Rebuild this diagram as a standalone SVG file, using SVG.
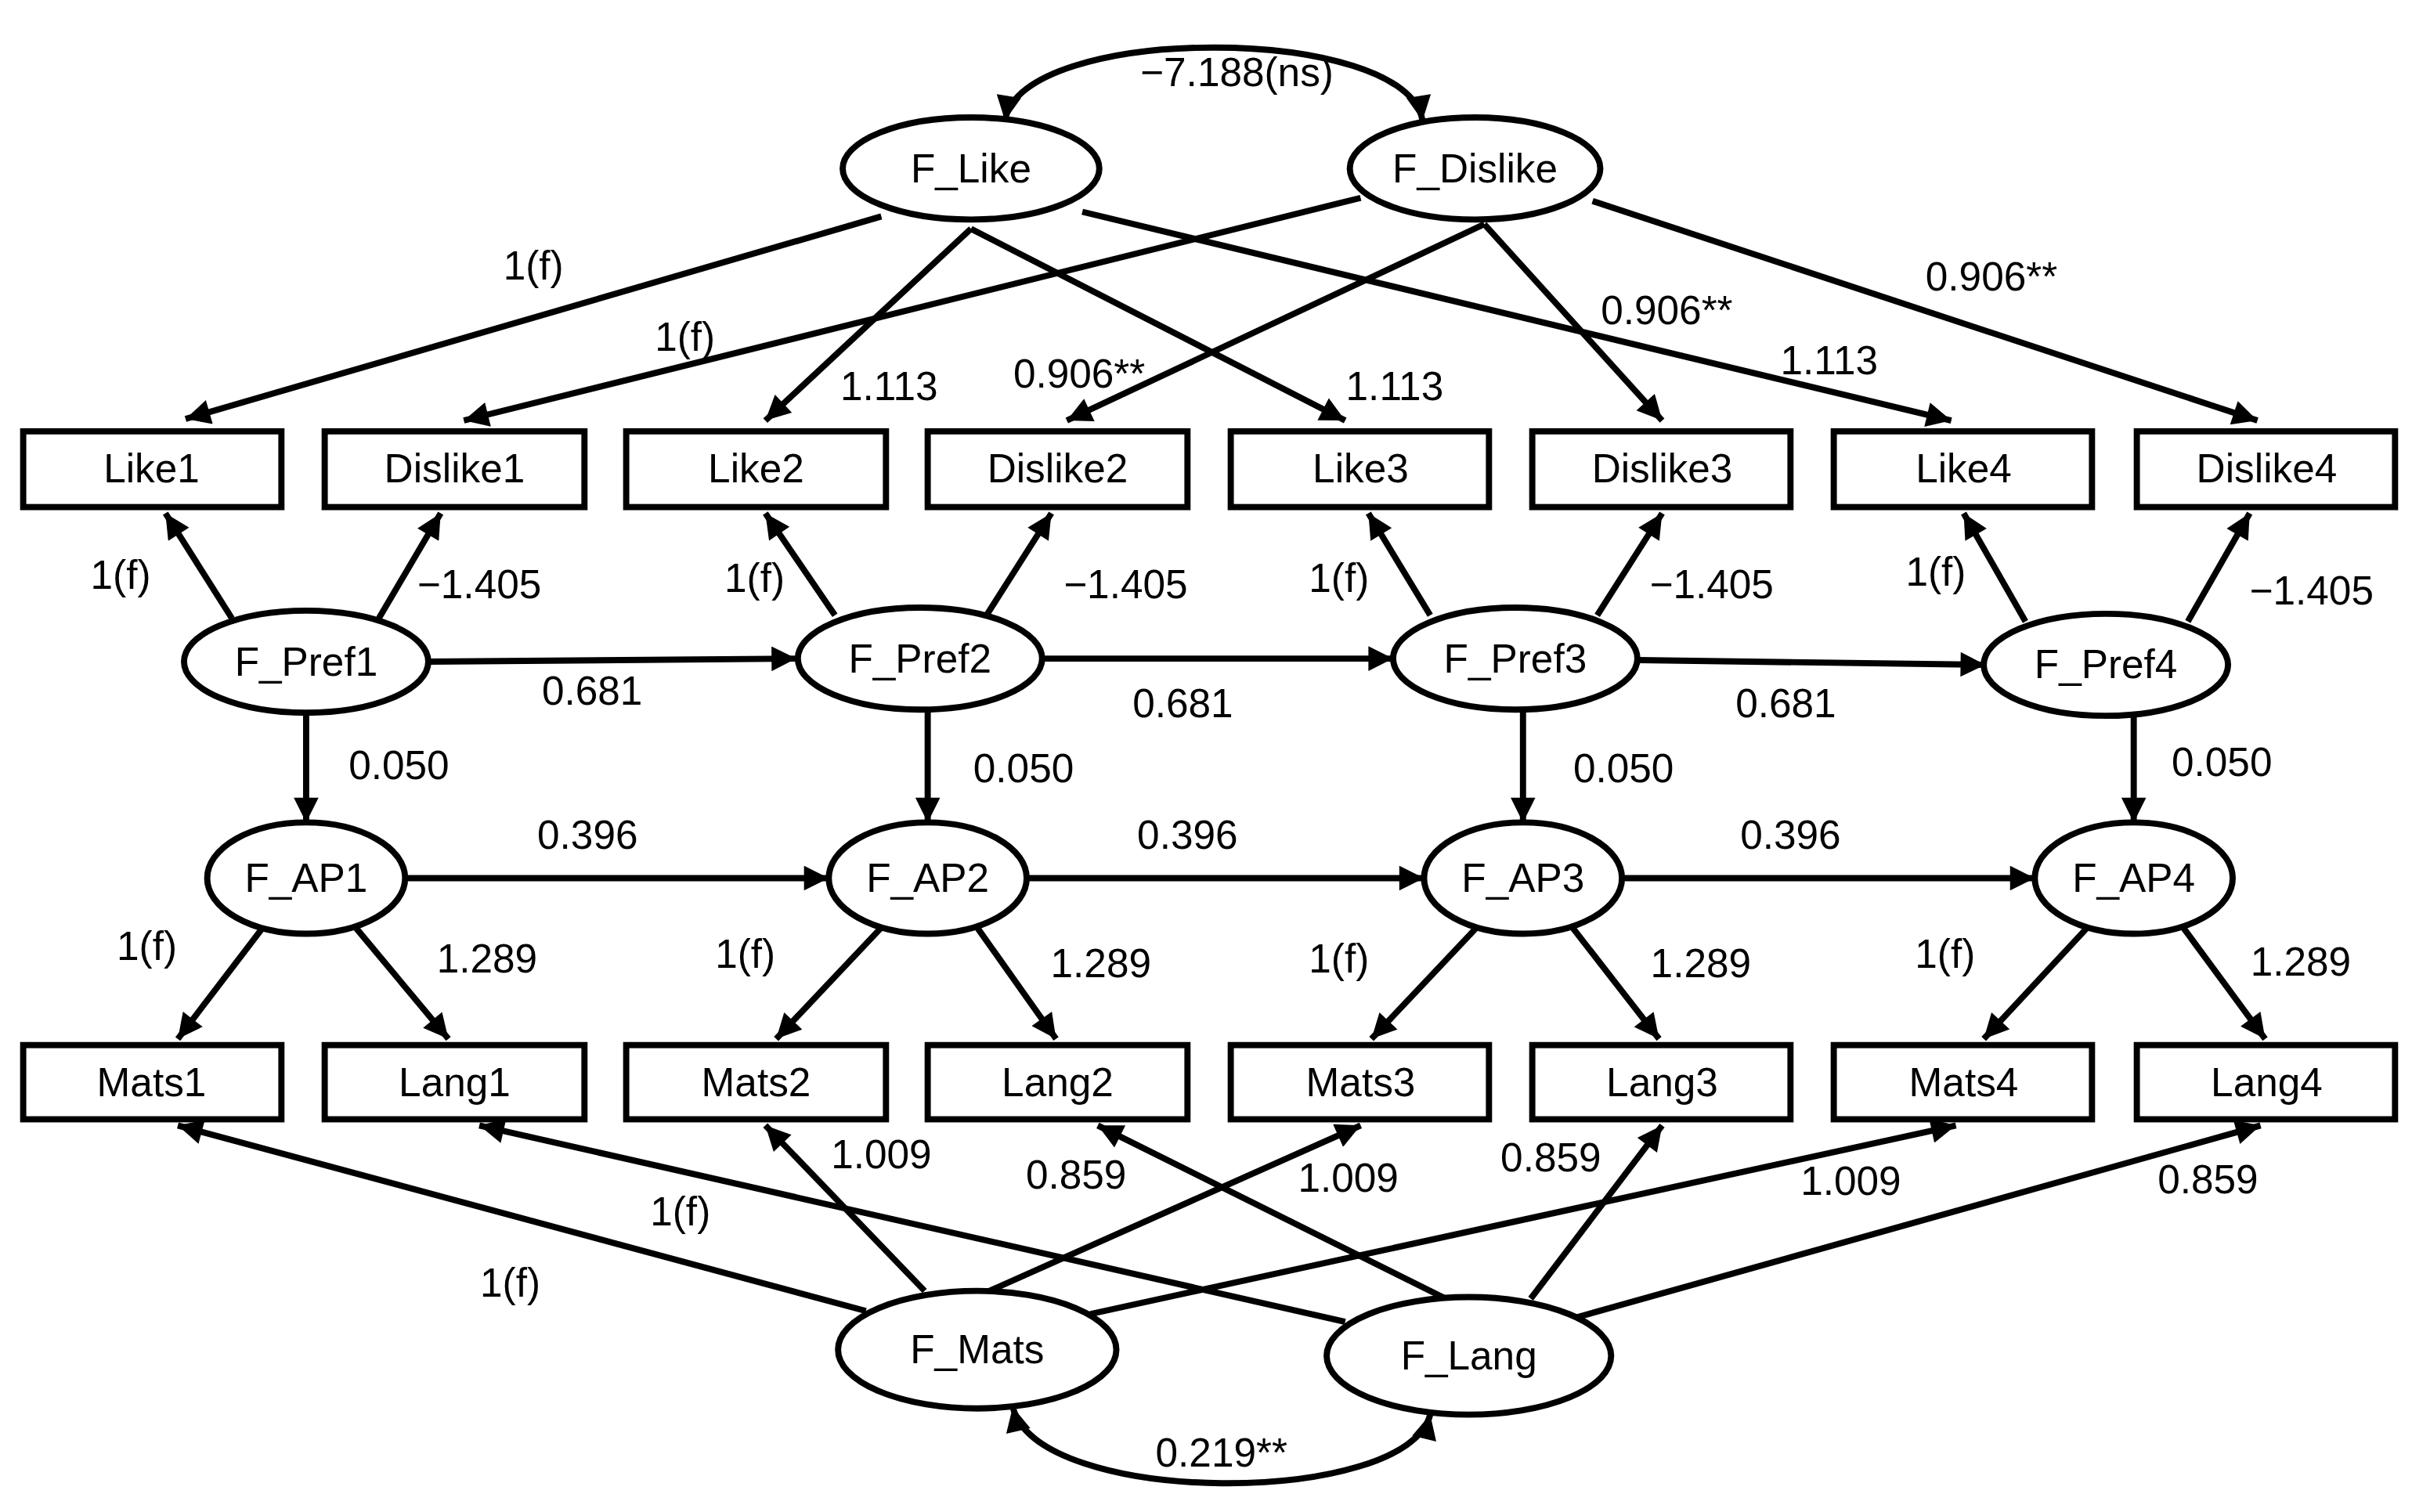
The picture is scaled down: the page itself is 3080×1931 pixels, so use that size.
<svg xmlns="http://www.w3.org/2000/svg" width="3080" height="1931" viewBox="0 0 3080 1931">
<style>
.n{fill:#fff;stroke:#000;stroke-width:4}
.t{font-family:"Liberation Sans",Arial,sans-serif;font-size:26px;text-anchor:middle;dominant-baseline:central;fill:#000}
.c line,.c path{stroke:#000;stroke-width:4;fill:none;marker-end:url(#a)}
</style>
<defs>
<marker id="a" viewBox="0 0 10 10" refX="10" refY="5" markerWidth="5.5" markerHeight="4" orient="auto" markerUnits="strokeWidth"><path d="M0,0 L10,5 L0,10 z" fill="#000"/></marker>
<marker id="s" viewBox="0 0 10 10" refX="0" refY="5" markerWidth="5.5" markerHeight="4" orient="auto" markerUnits="strokeWidth"><path d="M10,0 L0,5 L10,10 z" fill="#000"/></marker>
</defs>
<rect width="3080" height="1931" fill="#fff"/>
<g transform="scale(1.9744)">
<g class="c" id="connectors">
<path d="M650,78 C660,15 910,15 920,78" style="marker-start:url(#s)"/>
<path d="M655,910 C670,975 910,975 925,915" style="marker-start:url(#s)"/>
<line x1="570" y1="140" x2="120" y2="271"/>
<line x1="628" y1="148" x2="495" y2="272"/>
<line x1="628" y1="148" x2="870" y2="272"/>
<line x1="700" y1="137" x2="1262" y2="272"/>
<line x1="880" y1="128" x2="300" y2="272"/>
<line x1="960" y1="145" x2="690" y2="272"/>
<line x1="960" y1="145" x2="1075" y2="272"/>
<line x1="1030" y1="130" x2="1460" y2="272"/>
<line x1="150" y1="400" x2="107" y2="332"/>
<line x1="245" y1="400" x2="285" y2="332"/>
<line x1="540" y1="398" x2="495" y2="332"/>
<line x1="638" y1="398" x2="680" y2="332"/>
<line x1="925" y1="398" x2="885" y2="332"/>
<line x1="1033" y1="398" x2="1075" y2="332"/>
<line x1="1310" y1="402" x2="1270" y2="332"/>
<line x1="1415" y1="402" x2="1455" y2="332"/>
<line x1="277" y1="428" x2="515" y2="426"/>
<line x1="674" y1="426" x2="901" y2="426"/>
<line x1="1060" y1="427" x2="1284" y2="430"/>
<line x1="198" y1="461" x2="198" y2="532"/>
<line x1="600" y1="459" x2="600" y2="532"/>
<line x1="985" y1="459" x2="985" y2="532"/>
<line x1="1380" y1="463" x2="1380" y2="532"/>
<line x1="262" y1="568" x2="536" y2="568"/>
<line x1="664" y1="568" x2="921" y2="568"/>
<line x1="1049" y1="568" x2="1316" y2="568"/>
<line x1="170" y1="600" x2="115" y2="672"/>
<line x1="230" y1="600" x2="290" y2="672"/>
<line x1="570" y1="600" x2="502" y2="672"/>
<line x1="632" y1="600" x2="683" y2="672"/>
<line x1="955" y1="600" x2="887" y2="672"/>
<line x1="1017" y1="600" x2="1073" y2="672"/>
<line x1="1350" y1="600" x2="1283" y2="672"/>
<line x1="1412" y1="600" x2="1465" y2="672"/>
<line x1="560" y1="848" x2="115" y2="728"/>
<line x1="598" y1="835" x2="495" y2="728"/>
<line x1="640" y1="835" x2="880" y2="728"/>
<line x1="705" y1="850" x2="1265" y2="728"/>
<line x1="870" y1="855" x2="310" y2="728"/>
<line x1="935" y1="840" x2="710" y2="728"/>
<line x1="990" y1="840" x2="1075" y2="728"/>
<line x1="1020" y1="852" x2="1462" y2="728"/>
</g>
<g id="labels" class="t">
<text x="800" y="47">−7.188(ns)</text>
<text x="345" y="172">1(f)</text>
<text x="575" y="250">1.113</text>
<text x="902" y="250">1.113</text>
<text x="1183" y="233">1.113</text>
<text x="443" y="218">1(f)</text>
<text x="698" y="242">0.906**</text>
<text x="1078" y="201">0.906**</text>
<text x="1288" y="179">0.906**</text>
<text x="78" y="372">1(f)</text><text x="310" y="378">−1.405</text>
<text x="488" y="374">1(f)</text><text x="728" y="378">−1.405</text>
<text x="866" y="374">1(f)</text><text x="1107" y="378">−1.405</text>
<text x="1252" y="370">1(f)</text><text x="1495" y="382">−1.405</text>
<text x="383" y="447">0.681</text><text x="765" y="455">0.681</text><text x="1155" y="455">0.681</text>
<text x="258" y="495">0.050</text><text x="662" y="497">0.050</text><text x="1050" y="497">0.050</text><text x="1437" y="493">0.050</text>
<text x="380" y="540">0.396</text><text x="768" y="540">0.396</text><text x="1158" y="540">0.396</text>
<text x="95" y="612">1(f)</text><text x="315" y="620">1.289</text>
<text x="482" y="617">1(f)</text><text x="712" y="623">1.289</text>
<text x="866" y="620">1(f)</text><text x="1100" y="623">1.289</text>
<text x="1258" y="617">1(f)</text><text x="1488" y="622">1.289</text>
<text x="330" y="830">1(f)</text><text x="570" y="747">1.009</text><text x="872" y="762">1.009</text><text x="1197" y="764">1.009</text>
<text x="440" y="784">1(f)</text><text x="696" y="760">0.859</text><text x="1003" y="749">0.859</text><text x="1428" y="763">0.859</text>
<text x="790" y="940">0.219**</text>
</g>
<g id="F_Like"><ellipse class="n" cx="628" cy="109" rx="83" ry="33"/><text class="t" x="628" y="109">F_Like</text></g>
<g id="F_Dislike"><ellipse class="n" cx="954" cy="109" rx="81" ry="33"/><text class="t" x="954" y="109">F_Dislike</text></g>
<g id="Like1"><rect class="n" x="15" y="279" width="167" height="49"/><text class="t" x="98" y="303">Like1</text></g>
<g id="Dislike1"><rect class="n" x="210" y="279" width="168" height="49"/><text class="t" x="294" y="303">Dislike1</text></g>
<g id="Like2"><rect class="n" x="405" y="279" width="168" height="49"/><text class="t" x="489" y="303">Like2</text></g>
<g id="Dislike2"><rect class="n" x="600" y="279" width="168" height="49"/><text class="t" x="684" y="303">Dislike2</text></g>
<g id="Like3"><rect class="n" x="796" y="279" width="167" height="49"/><text class="t" x="880" y="303">Like3</text></g>
<g id="Dislike3"><rect class="n" x="991" y="279" width="167" height="49"/><text class="t" x="1075" y="303">Dislike3</text></g>
<g id="Like4"><rect class="n" x="1186" y="279" width="167" height="49"/><text class="t" x="1270" y="303">Like4</text></g>
<g id="Dislike4"><rect class="n" x="1382" y="279" width="167" height="49"/><text class="t" x="1466" y="303">Dislike4</text></g>
<g id="F_Pref1"><ellipse class="n" cx="198" cy="428" rx="79" ry="33"/><text class="t" x="198" y="428">F_Pref1</text></g>
<g id="F_Pref2"><ellipse class="n" cx="595" cy="426" rx="79" ry="33"/><text class="t" x="595" y="426">F_Pref2</text></g>
<g id="F_Pref3"><ellipse class="n" cx="980" cy="426" rx="79" ry="33"/><text class="t" x="980" y="426">F_Pref3</text></g>
<g id="F_Pref4"><ellipse class="n" cx="1362" cy="430" rx="79" ry="33"/><text class="t" x="1362" y="430">F_Pref4</text></g>
<g id="F_AP1"><ellipse class="n" cx="198" cy="568" rx="64" ry="36"/><text class="t" x="198" y="568">F_AP1</text></g>
<g id="F_AP2"><ellipse class="n" cx="600" cy="568" rx="64" ry="36"/><text class="t" x="600" y="568">F_AP2</text></g>
<g id="F_AP3"><ellipse class="n" cx="985" cy="568" rx="64" ry="36"/><text class="t" x="985" y="568">F_AP3</text></g>
<g id="F_AP4"><ellipse class="n" cx="1380" cy="568" rx="64" ry="36"/><text class="t" x="1380" y="568">F_AP4</text></g>
<g id="Mats1"><rect class="n" x="15" y="676" width="167" height="48"/><text class="t" x="98" y="700">Mats1</text></g>
<g id="Lang1"><rect class="n" x="210" y="676" width="168" height="48"/><text class="t" x="294" y="700">Lang1</text></g>
<g id="Mats2"><rect class="n" x="405" y="676" width="168" height="48"/><text class="t" x="489" y="700">Mats2</text></g>
<g id="Lang2"><rect class="n" x="600" y="676" width="168" height="48"/><text class="t" x="684" y="700">Lang2</text></g>
<g id="Mats3"><rect class="n" x="796" y="676" width="167" height="48"/><text class="t" x="880" y="700">Mats3</text></g>
<g id="Lang3"><rect class="n" x="991" y="676" width="167" height="48"/><text class="t" x="1075" y="700">Lang3</text></g>
<g id="Mats4"><rect class="n" x="1186" y="676" width="167" height="48"/><text class="t" x="1270" y="700">Mats4</text></g>
<g id="Lang4"><rect class="n" x="1382" y="676" width="167" height="48"/><text class="t" x="1466" y="700">Lang4</text></g>
<g id="F_Mats"><ellipse class="n" cx="632" cy="873" rx="90" ry="38"/><text class="t" x="632" y="873">F_Mats</text></g>
<g id="F_Lang"><ellipse class="n" cx="950" cy="877" rx="92" ry="38"/><text class="t" x="950" y="877">F_Lang</text></g>
</g>
</svg>
